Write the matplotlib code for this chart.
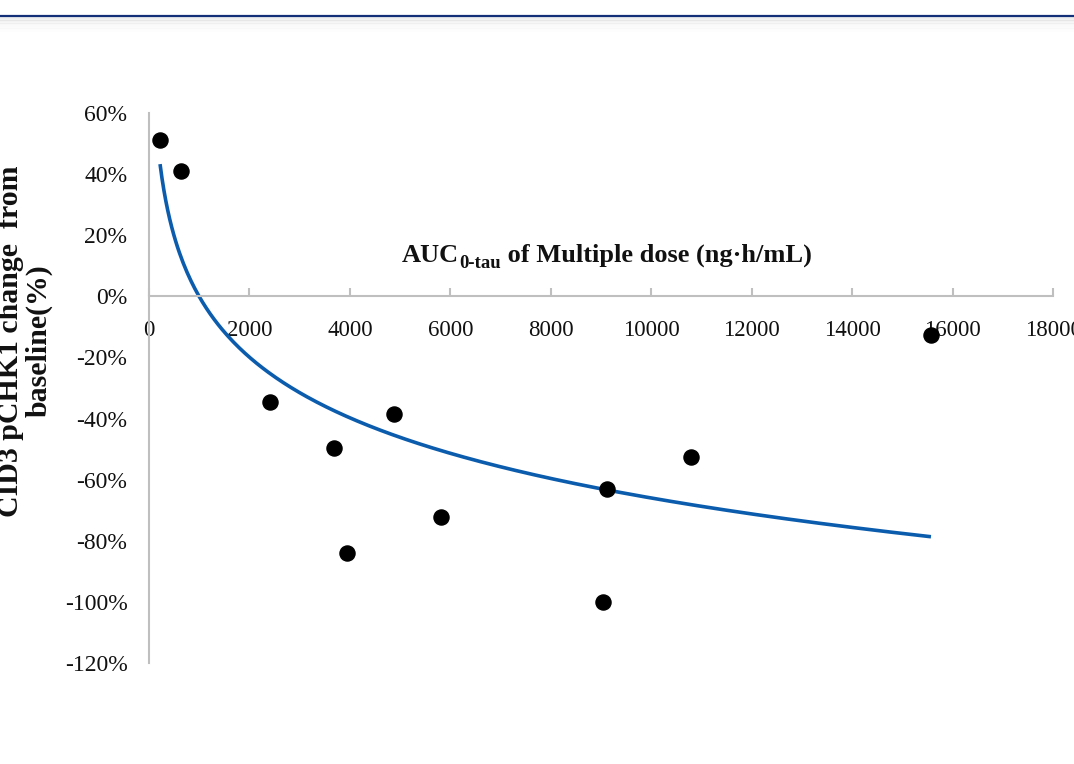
import numpy as np
import matplotlib
matplotlib.use('Agg')
import matplotlib.pyplot as plt
from matplotlib.lines import Line2D

# ---- data ----
auc = [220, 640, 2415, 3675, 3950, 4870, 5810, 9040, 9120, 10800, 15570]
change = [0.513, 0.409, -0.347, -0.497, -0.841, -0.386, -0.721, -1.00, -0.630, -0.526, -0.127]
x_ticks = [0, 2000, 4000, 6000, 8000, 10000, 12000, 14000, 16000, 18000]
y_ticks = [-1.2, -1.0, -0.8, -0.6, -0.4, -0.2, 0.0, 0.2, 0.4, 0.6]
x_tick_labels = [str(v) for v in x_ticks]
y_tick_labels = [f"{int(round(v * 100))}%" for v in y_ticks]

W, H = 1074, 764
fig = plt.figure(figsize=(W / 100, H / 100), dpi=100)
fig.patch.set_facecolor('white')

serif = ['Liberation Serif', 'DejaVu Serif']

ax = fig.add_axes([149 / W, 1 - 663 / H, (1053 - 149) / W, (663 - 113) / H])
ax.set_xlim(0, 18000)
ax.set_ylim(-1.2, 0.6)

# logarithmic trendline (least squares on ln x)
a, b = np.polyfit(np.log(auc), change, 1)
xs = np.linspace(min(auc), max(auc), 400)
ax.plot(xs, a * np.log(xs) + b, color='#0b5cad', lw=2.6, solid_capstyle='butt', zorder=2)

ax.scatter(auc, change, s=118, color='black', zorder=3, clip_on=False)

# spines
spine_c = '#bfbfbf'
for s in ['top', 'right']:
    ax.spines[s].set_visible(False)
ax.spines['bottom'].set_position(('data', 0))
ax.spines['left'].set_position(('data', 0))
for s in ['bottom', 'left']:
    ax.spines[s].set_color(spine_c)
    ax.spines[s].set_linewidth(1.5)

ax.set_xticks(x_ticks)
ax.set_xticklabels(x_tick_labels, fontfamily=serif, fontsize=16.5, color='#111111')
ax.set_yticks(y_ticks)
ax.set_yticklabels(y_tick_labels, fontfamily=serif, fontsize=17, color='#111111')
ax.tick_params(axis='x', direction='in', length=6, width=1.5, color=spine_c, pad=17)
ax.tick_params(axis='y', length=0, pad=15.5)

# x axis title (inside plot), composed of main text + subscript
r = fig.canvas.get_renderer()
base_y = 1 - 262 / H
t1 = fig.text(402 / W, base_y, 'AUC', fontfamily=serif, fontsize=19,
              fontweight='bold', ha='left', va='baseline', color='#111111')
bb1 = t1.get_window_extent(r)
t2 = fig.text(bb1.x1 / W, base_y - 6 / H, '0-tau', fontfamily=serif, fontsize=13.5,
              fontweight='bold', ha='left', va='baseline', color='#111111')
bb2 = t2.get_window_extent(r)
fig.text(bb2.x1 / W, base_y, ' of Multiple dose (ng·h/mL)', fontfamily=serif,
         fontsize=19, fontweight='bold', ha='left', va='baseline', color='#111111')

# y axis title (cut at left edge as in the reference)
fig.text(25 / W, 1 - 341 / H, 'CID3 pCHK1 change  from\nbaseline(%)',
         fontfamily=serif, fontsize=21.5, fontweight='bold', rotation=90,
         ha='center', va='center', multialignment='center', linespacing=1.05,
         color='#111111')

# top banner line with soft shadow
for i, al in enumerate([0.14, 0.12, 0.10, 0.08, 0.06, 0.045, 0.03, 0.02, 0.01]):
    yy = 1 - (18 + i * 1.6) / H
    fig.add_artist(Line2D([0, 1], [yy, yy], transform=fig.transFigure,
                          color='gray', lw=1.3, alpha=al))
fig.add_artist(Line2D([0, 1], [1 - 15.8 / H, 1 - 15.8 / H], transform=fig.transFigure,
                      color='#132f78', lw=1.6))

fig.savefig('out.png', dpi=100, facecolor='white')
